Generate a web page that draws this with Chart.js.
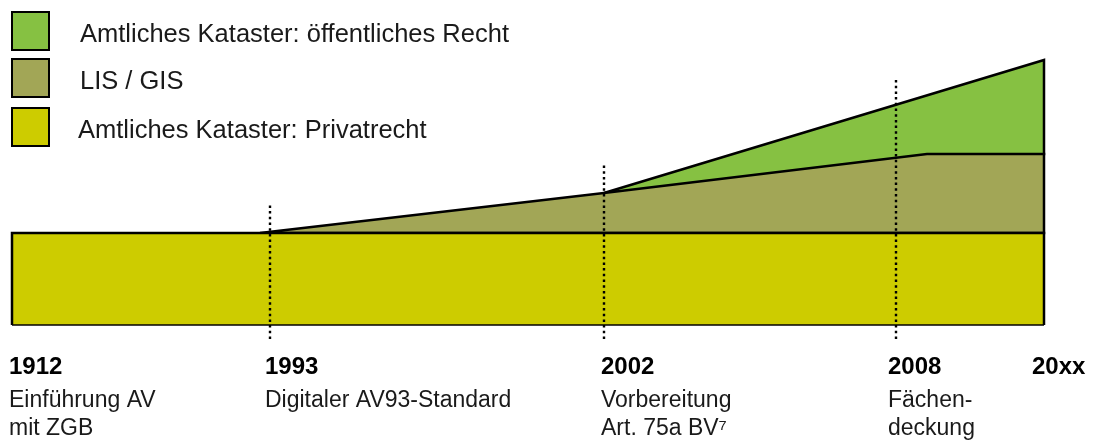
<!DOCTYPE html>
<html lang="de">
<head>
    <meta charset="UTF-8">
    <title>Kataster Entwicklung</title>
    <script src="https://cdn.jsdelivr.net/npm/chart.js"></script>
    <style>
        html, body { margin: 0; padding: 0; background: #fff; overflow: hidden; }
        #chart-container { width: 1093px; height: 445px; }
    </style>
</head>
<body>
    <div id="chart-container">
        <canvas id="timeline" width="1093" height="445"></canvas>
    </div>

    <script>
        // Timeline labels (x = position along the timeline, 0..1032)
        const years = ["1912", "1993", "2002", "2008", "20xx"];
        const events = [
            ["Einführung AV", "mit ZGB"],
            ["Digitaler AV93-Standard"],
            ["Vorbereitung", "Art. 75a BV\u2077"],
            ["Fächen-", "deckung"],
            [""]
        ];
        const labelPos = [-3, 253, 589, 876, 1020];

        // Areas (outline of each layer, values in timeline units)
        const privatX = [0, 0, 1032, 1032, 0];
        const privatY = [0, 92, 92, 0, 0];
        const lisX = [248, 592, 915, 1032, 1032, 248];
        const lisY = [92, 132, 171, 171, 92, 92];
        const oeffX = [592, 1032, 1032, 592];
        const oeffY = [132, 265, 171, 132];

        // Dotted milestone markers
        const markerX = [258, 592, 884];
        const markerTop = [122, 160, 247];
        const markerBottom = -14;

        const xMax = 1032;
        const yMax = 265;

        function pts(xs, ys) {
            return xs.map((x, i) => ({ x: x, y: ys[i] }));
        }

        const areaBase = {
            fill: 'shape',
            borderColor: '#000',
            borderWidth: 2.5,
            borderJoinStyle: 'miter',
            pointRadius: 0,
            tension: 0,
            clip: false
        };

        let datasets = [
            Object.assign({}, areaBase, {
                label: "Amtliches Kataster: öffentliches Recht",
                data: pts(oeffX, oeffY),
                backgroundColor: '#86c142',
                order: 4
            }),
            Object.assign({}, areaBase, {
                label: "LIS / GIS",
                data: pts(lisX, lisY),
                backgroundColor: '#a2a656',
                order: 3
            }),
            Object.assign({}, areaBase, {
                label: "Amtliches Kataster: Privatrecht",
                data: pts(privatX, privatY),
                backgroundColor: '#cdcc00',
                order: 2,
                segment: {
                    // thin bottom edge
                    borderWidth: ctx => (ctx.p0.parsed.y === 0 && ctx.p1.parsed.y === 0) ? 1.5 : 2.5
                }
            })
        ];

        markerX.forEach((x, i) => {
            datasets.push({
                label: "marker" + i,
                data: [{ x: x, y: markerBottom }, { x: x, y: markerTop[i] }],
                borderColor: '#000',
                borderWidth: 2.4,
                borderDash: [2.5, 3.2],
                pointRadius: 0,
                fill: false,
                clip: false,
                order: 1
            });
        });

        // legend drawn on canvas with big boxes
        const boxLegend = {
            id: 'boxLegend',
            afterDraw(chart) {
                const ctx = chart.ctx;
                const tops = [12, 59, 108];
                ctx.save();
                for (let i = 0; i < 3; i++) {
                    const ds = chart.data.datasets[i];
                    ctx.fillStyle = ds.backgroundColor;
                    ctx.fillRect(12, tops[i], 37, 38);
                    ctx.lineWidth = 2;
                    ctx.strokeStyle = '#000';
                    ctx.strokeRect(12, tops[i], 37, 38);
                    ctx.fillStyle = '#1a1a1a';
                    ctx.font = '25.5px "Liberation Sans", Arial, sans-serif';
                    ctx.textBaseline = 'alphabetic';
                    ctx.fillText(ds.label, i === 2 ? 78 : 80, tops[i] + 30);
                }
                ctx.restore();
            }
        };

        // no extra side padding from the tick labels
        function noSidePad(s, h) {
            s.height = h;
            s.paddingLeft = 0;
            s.paddingRight = 0;
        }

        const ctx = document.getElementById("timeline").getContext("2d");
        const chart = new Chart(ctx, {
            type: 'line',
            data: { datasets: datasets },
            options: {
                responsive: false,
                animation: false,
                layout: { padding: { left: 12, right: 49, top: 60, bottom: 0 } },
                plugins: {
                    legend: { display: false },
                    tooltip: { enabled: false }
                },
                scales: {
                    x: {
                        type: 'linear',
                        position: 'bottom',
                        weight: 1,
                        min: 0,
                        max: xMax,
                        grid: { display: false, drawTicks: false },
                        border: { display: false },
                        afterBuildTicks: s => { s.ticks = labelPos.map(v => ({ value: v })); },
                        afterFit: s => noSidePad(s, 60),
                        ticks: {
                            autoSkip: false,
                            maxRotation: 0,
                            minRotation: 0,
                            align: 'start',
                            padding: 28,
                            color: '#000',
                            font: { family: '"Liberation Sans", Arial, sans-serif', size: 24, weight: 'bold', lineHeight: 1.2 },
                            callback: (v, i) => years[i]
                        }
                    },
                    x2: {
                        type: 'linear',
                        position: 'bottom',
                        weight: 2,
                        min: 0,
                        max: xMax,
                        grid: { display: false, drawTicks: false },
                        border: { display: false },
                        afterBuildTicks: s => { s.ticks = labelPos.map(v => ({ value: v })); },
                        afterFit: s => noSidePad(s, 60),
                        ticks: {
                            autoSkip: false,
                            maxRotation: 0,
                            minRotation: 0,
                            align: 'start',
                            padding: 2,
                            color: '#1a1a1a',
                            font: { family: '"Liberation Sans", Arial, sans-serif', size: 23, lineHeight: 1.2 },
                            callback: (v, i) => events[i]
                        }
                    },
                    y: {
                        display: false,
                        min: 0,
                        max: yMax
                    }
                }
            },
            plugins: [boxLegend]
        });
    </script>
</body>
</html>
